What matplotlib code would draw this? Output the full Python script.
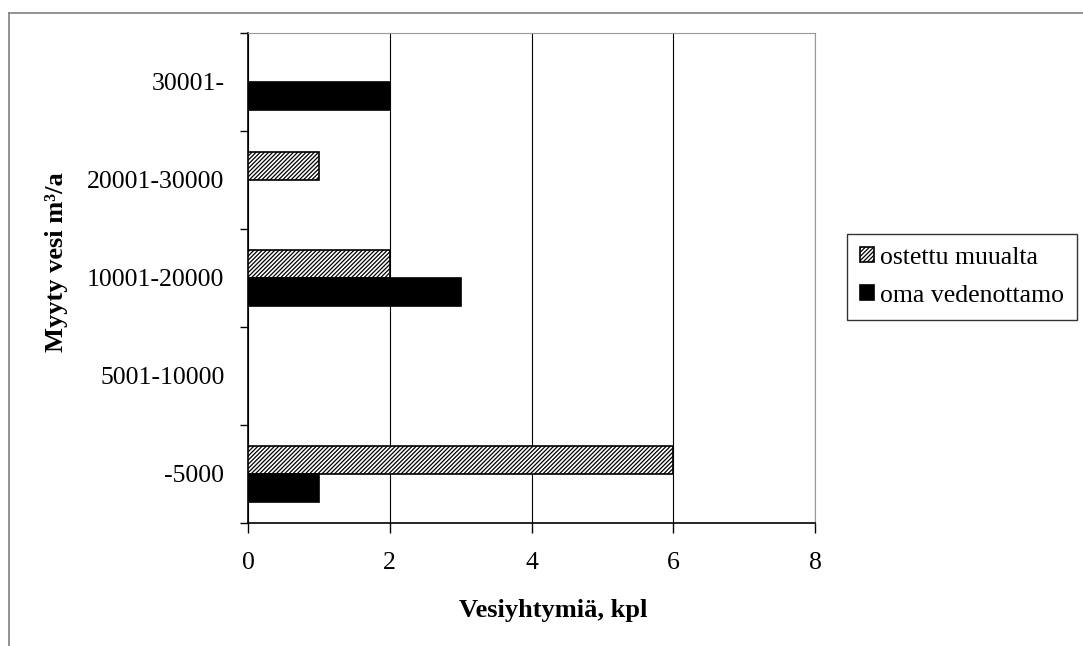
import numpy as np
import matplotlib.pyplot as plt
from matplotlib.lines import Line2D

plt.rcParams['font.family'] = ['Liberation Serif', 'DejaVu Serif']
plt.rcParams['hatch.linewidth'] = 0.9
plt.rcParams['hatch.color'] = '#333333'

# Luokat alhaalta ylös
categories = ['-5000', '5001-10000', '10001-20000', '20001-30000', '30001-']
ostettu = [6, 0, 2, 1, 0]   # ostettu muualta
oma = [1, 0, 3, 0, 2]       # oma vedenottamo
x_ticks = [0, 2, 4, 6, 8]

fig = plt.figure(figsize=(10.83, 6.46), dpi=100)
ax = fig.add_axes([248/1083, 1-523/646, 567/1083, 490/646])

y = np.arange(len(categories))
h = 0.286
ax.barh(y + h/2, ostettu, height=h, color='white', edgecolor='black',
        hatch='////////', linewidth=1.2, label='ostettu muualta', zorder=3)
ax.barh(y - h/2, oma, height=h, color='black', edgecolor='black',
        linewidth=1.2, label='oma vedenottamo', zorder=3)

ax.set_xlim(0, 8)
ax.set_ylim(-0.5, 4.5)
ax.set_xticks(x_ticks)
ax.set_xticklabels([str(v) for v in x_ticks])
ax.set_yticks(np.arange(-0.5, 5, 1))
ax.set_yticklabels([])
ax.set_yticks(y, minor=True)
ax.set_yticklabels(categories, minor=True)
ax.tick_params(axis='y', which='major', direction='out', length=6, width=1)
ax.tick_params(axis='y', which='minor', length=0, pad=17, labelsize=18.5)
ax.tick_params(axis='x', direction='out', length=7, width=1, pad=14, labelsize=18.5)
ax.grid(axis='x', color='black', linewidth=0.8, zorder=0)

for s in ['top', 'right']:
    ax.spines[s].set_color('#999999')
for s in ['left', 'bottom']:
    ax.spines[s].set_color('black')
    ax.spines[s].set_linewidth(1.2)

fig.text(553/1083, 1-610/646, 'Vesiyhtymiä, kpl', fontsize=19,
         fontweight='bold', ha='center', va='center')
fig.text(57/1083, 1-262/646, 'Myyty vesi m³/a', rotation=90, fontsize=19,
         fontweight='bold', ha='center', va='center')

leg = ax.legend(loc='upper left', bbox_to_anchor=(847/1083, 1-234/646),
                bbox_transform=fig.transFigure, borderaxespad=0, fancybox=False,
                edgecolor='black', fontsize=18.5, handlelength=0.55,
                handleheight=0.55, handletextpad=0.25, labelspacing=0.62,
                borderpad=0.5)
leg.get_frame().set_linewidth(1)

# ulkoreunus
fig.add_artist(Line2D([9/1083, 1], [1-13/646, 1-13/646], color='#808080', linewidth=1.2))
fig.add_artist(Line2D([9/1083, 9/1083], [0, 1-13/646], color='#808080', linewidth=1.2))

fig.savefig('out.png', dpi=100)
